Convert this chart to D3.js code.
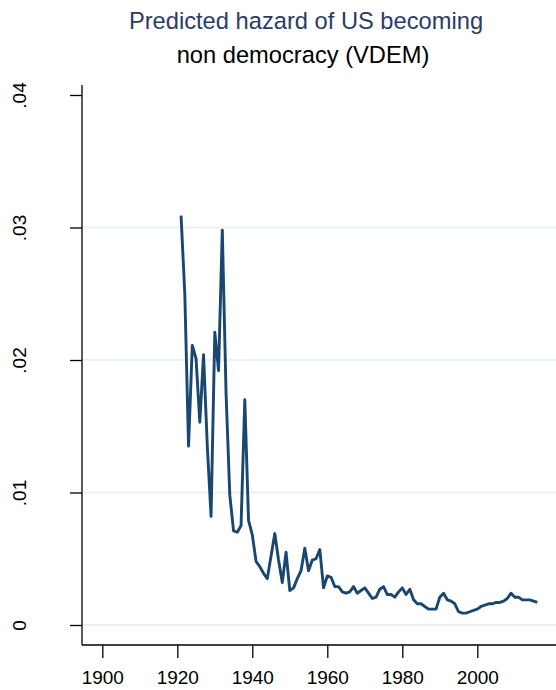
<!DOCTYPE html>
<html>
<head>
<meta charset="utf-8">
<script src="https://cdn.jsdelivr.net/npm/d3@7"></script>
<style>
  body { margin: 0; background: #fff; }
  svg { display: block; font-family: "Liberation Sans", Arial, sans-serif; }
</style>
</head>
<body>
<div id="chart"></div>
<script>
// yearly predicted hazard
const years = d3.range(1921, 2017);
const hazard = [
  0.0309, 0.0250, 0.0135, 0.0211, 0.0201, 0.0153, 0.0204, 0.0135, 0.0082, 0.0221,
  0.0192, 0.0298, 0.0175, 0.0098, 0.0071, 0.0070, 0.0075, 0.0170, 0.0079, 0.0068,
  0.0048, 0.0044, 0.0039, 0.0035, 0.0052, 0.0069, 0.0049, 0.0032, 0.0055, 0.0026,
  0.0028, 0.0035, 0.0041, 0.0058, 0.0041, 0.0049, 0.0050, 0.0057, 0.0028, 0.0037,
  0.0036, 0.0029, 0.0029, 0.0025, 0.0024, 0.0025, 0.0029, 0.0024, 0.0026, 0.0028,
  0.0024, 0.0020, 0.0021, 0.0027, 0.0029, 0.0023, 0.0023, 0.0021, 0.0025, 0.0028,
  0.0023, 0.0027, 0.0019, 0.0016, 0.0016, 0.0014, 0.0012, 0.0012, 0.0012, 0.0021,
  0.0024, 0.0019, 0.0018, 0.0016, 0.0010, 0.0009, 0.0009, 0.0010, 0.0011, 0.0012,
  0.0014, 0.0015, 0.0016, 0.0016, 0.0017, 0.0017, 0.0018, 0.0020, 0.0024, 0.0021,
  0.0021, 0.0019, 0.0019, 0.0019, 0.0018, 0.0017
];
const xTicks = [1900, 1920, 1940, 1960, 1980, 2000];
const yTicks = [0, 0.01, 0.02, 0.03, 0.04];
const yTickLabels = ["0", ".01", ".02", ".03", ".04"];
const gridValues = [0, 0.01, 0.02, 0.03];
const titleLines = ["Predicted hazard of US becoming", "non democracy (VDEM)"];

const W = 556, H = 690;
const plotLeft = 82, plotRight = 556, plotTop = 85, plotBottom = 645;

const svg = d3.select("#chart").append("svg")
    .attr("width", W)
    .attr("height", H);

// scales
const x = d3.scaleLinear().domain([1900, 2000]).range([102.3, 477.3]);
const y = d3.scaleLinear().domain([0, 0.04]).range([625, 95]);

// grid lines
svg.append("g").selectAll("line")
    .data(gridValues)
    .enter().append("line")
    .attr("x1", plotLeft)
    .attr("x2", plotRight)
    .attr("y1", d => y(d))
    .attr("y2", d => y(d))
    .style("stroke", "#eaf2f3")
    .style("stroke-width", "2px");

// y axis
const yAxis = svg.append("g")
    .attr("transform", "translate(" + plotLeft + ",0)")
    .call(d3.axisLeft(y).tickValues(yTicks)
        .tickFormat((d, i) => yTickLabels[i])
        .tickSize(12).tickPadding(0));
yAxis.select(".domain").remove();
yAxis.selectAll(".tick line").style("stroke", "#000").style("stroke-width", "1.3px");
yAxis.selectAll(".tick text")
    .attr("transform", "rotate(-90)")
    .attr("x", 0)
    .attr("y", -56)
    .attr("dy", 0)
    .attr("text-anchor", "middle")
    .style("font-size", "19px")
    .style("fill", "#000")
    .style("font-family", "'Liberation Sans', Arial, sans-serif");

// x axis
const xAxis = svg.append("g")
    .attr("transform", "translate(0," + plotBottom + ")")
    .call(d3.axisBottom(x).tickValues(xTicks)
        .tickFormat(d3.format("d"))
        .tickSize(13).tickPadding(0));
xAxis.select(".domain").remove();
xAxis.selectAll(".tick line").style("stroke", "#000").style("stroke-width", "1.3px");
xAxis.selectAll(".tick text")
    .attr("y", 39)
    .attr("dy", 0)
    .style("font-size", "19px")
    .style("fill", "#000")
    .style("font-family", "'Liberation Sans', Arial, sans-serif");

// axis lines
svg.append("line")
    .attr("x1", plotLeft).attr("x2", plotLeft)
    .attr("y1", plotTop).attr("y2", plotBottom)
    .style("stroke", "#000").style("stroke-width", "1.3px");
svg.append("line")
    .attr("x1", plotLeft).attr("x2", plotRight)
    .attr("y1", plotBottom).attr("y2", plotBottom)
    .style("stroke", "#000").style("stroke-width", "1.3px");

// hazard line
const line = d3.line()
    .x((d, i) => x(years[i]))
    .y(d => y(d));

svg.append("path")
    .datum(hazard)
    .attr("d", line)
    .style("fill", "none")
    .style("stroke", "#1a476f")
    .style("stroke-width", "2.9px")
    .style("stroke-linejoin", "round");

// title
svg.append("text")
    .attr("x", 306)
    .attr("y", 29)
    .attr("text-anchor", "middle")
    .style("font-size", "23.7px")
    .style("fill", "#2a3d66")
    .text(titleLines[0]);
svg.append("text")
    .attr("x", 303)
    .attr("y", 63)
    .attr("text-anchor", "middle")
    .style("font-size", "23.7px")
    .style("fill", "#000")
    .text(titleLines[1]);
</script>
</body>
</html>
